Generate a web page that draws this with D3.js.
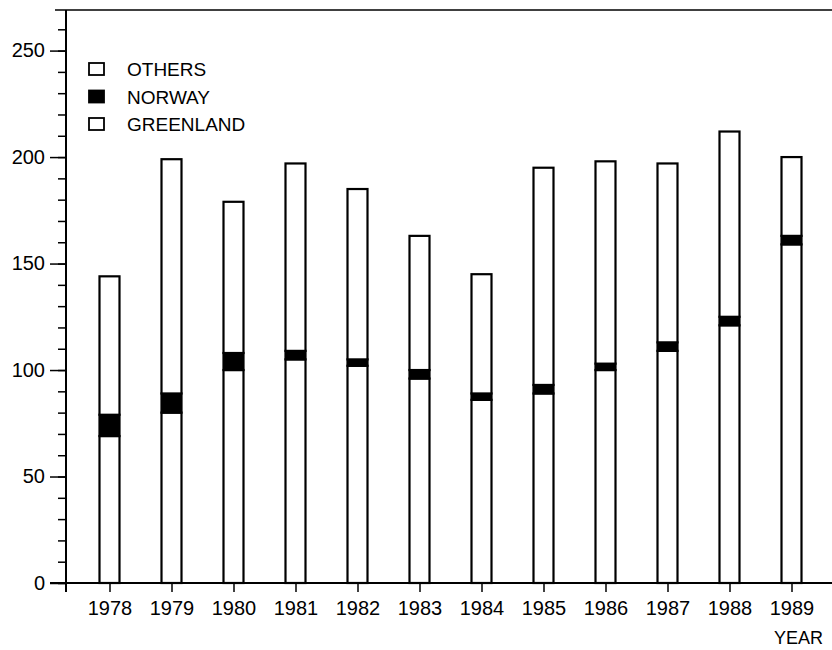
<!DOCTYPE html>
<html>
<head>
<meta charset="utf-8">
<script src="https://cdn.jsdelivr.net/npm/d3@7"></script>
<style>
  body { margin: 0; background: #fff; }
  text { font-family: "Liberation Sans", Arial, sans-serif; fill: #000; }
</style>
</head>
<body>
<div id="chart"></div>
<script>
// data (catch per year, stacked)
var years = [1978, 1979, 1980, 1981, 1982, 1983, 1984, 1985, 1986, 1987, 1988, 1989];
var greenland = [69, 80, 100, 105, 102, 96, 86, 89, 100, 109, 121, 159];
var norway = [10, 9, 8, 4, 3, 4, 3, 4, 3, 4, 4, 4];
var others = [65, 110, 71, 88, 80, 63, 56, 102, 95, 84, 87, 37];
var yTicks = [0, 50, 100, 150, 200, 250];
var legendNames = ["OTHERS", "NORWAY", "GREENLAND"];

var svgWidth = 832;
var svgHeight = 650;

var svg = d3.select("#chart")
  .append("svg")
  .attr("width", svgWidth)
  .attr("height", svgHeight);

// scales
var xScale = d3.scaleLinear()
  .domain([1978, 1989])
  .range([109.5, 791.5]);

var yScale = d3.scaleLinear()
  .domain([0, 270])
  .range([583, 8]);

var barWidth = 20;

// build rows for the stack
var table = years.map(function(y, i) {
  return { year: y, greenland: greenland[i], norway: norway[i], others: others[i] };
});
var keys = ["greenland", "norway", "others"];
var stacked = d3.stack().keys(keys)(table);

var fills = { greenland: "#fff", norway: "#000", others: "#fff" };

// top border line
svg.append("line")
  .attr("x1", 55).attr("x2", svgWidth)
  .attr("y1", 10).attr("y2", 10)
  .attr("stroke", "#000")
  .attr("stroke-width", 1.5);

// bars
stacked.forEach(function(layer) {
  svg.append("g")
    .selectAll("rect")
    .data(layer)
    .enter()
    .append("rect")
    .attr("x", d => xScale(d.data.year) - barWidth / 2)
    .attr("y", d => yScale(d[1]))
    .attr("width", barWidth)
    .attr("height", d => yScale(d[0]) - yScale(d[1]))
    .attr("fill", fills[layer.key])
    .attr("stroke", "#000")
    .attr("stroke-width", 2.2);
});

// y axis: minor ticks then major ticks with labels
var minorAxis = d3.axisLeft(yScale)
  .tickValues(d3.range(0, 270, 10))
  .tickSize(8)
  .tickFormat("");

svg.append("g")
  .attr("transform", "translate(66,0)")
  .call(minorAxis)
  .call(g => g.select(".domain").remove())
  .call(g => g.selectAll("line").attr("stroke-width", 1.5));

var leftAxis = d3.axisLeft(yScale)
  .tickValues(yTicks)
  .tickSize(16)
  .tickPadding(5);

svg.append("g")
  .attr("transform", "translate(66,0)")
  .call(leftAxis)
  .call(g => g.select(".domain").remove())
  .call(g => g.selectAll("line").attr("stroke-width", 1.5))
  .call(g => g.selectAll("text")
    .style("font-size", "20px")
    .style("font-family", "'Liberation Sans', Arial, sans-serif"));

// y axis line (runs a little below the x axis)
svg.append("line")
  .attr("x1", 66).attr("x2", 66)
  .attr("y1", 10).attr("y2", 592)
  .attr("stroke", "#000")
  .attr("stroke-width", 2);

// x axis
var bottomAxis = d3.axisBottom(xScale)
  .tickValues(years)
  .tickFormat(d3.format("d"))
  .tickSize(9)
  .tickPadding(9);

svg.append("g")
  .attr("transform", "translate(0,583)")
  .call(bottomAxis)
  .call(g => g.select(".domain").remove())
  .call(g => g.selectAll("line").attr("stroke-width", 1.5))
  .call(g => g.selectAll("text")
    .style("font-size", "20px")
    .style("font-family", "'Liberation Sans', Arial, sans-serif"));

svg.append("line")
  .attr("x1", 50).attr("x2", svgWidth)
  .attr("y1", 583).attr("y2", 583)
  .attr("stroke", "#000")
  .attr("stroke-width", 2);

// axis title
svg.append("text")
  .attr("x", 774)
  .attr("y", 644)
  .style("font-size", "18px")
  .text("YEAR");

// legend
var legend = svg.append("g")
  .selectAll("g")
  .data(legendNames)
  .enter()
  .append("g")
  .attr("transform", (d, i) => `translate(89, ${63 + i * 27.5})`);

legend.append("rect")
  .attr("width", 15)
  .attr("height", 12)
  .attr("fill", d => d === "NORWAY" ? "#000" : "#fff")
  .attr("stroke", "#000")
  .attr("stroke-width", 1.8);

legend.append("text")
  .attr("x", 38)
  .attr("y", 13)
  .style("font-size", "19px")
  .text(d => d);
</script>
</body>
</html>
